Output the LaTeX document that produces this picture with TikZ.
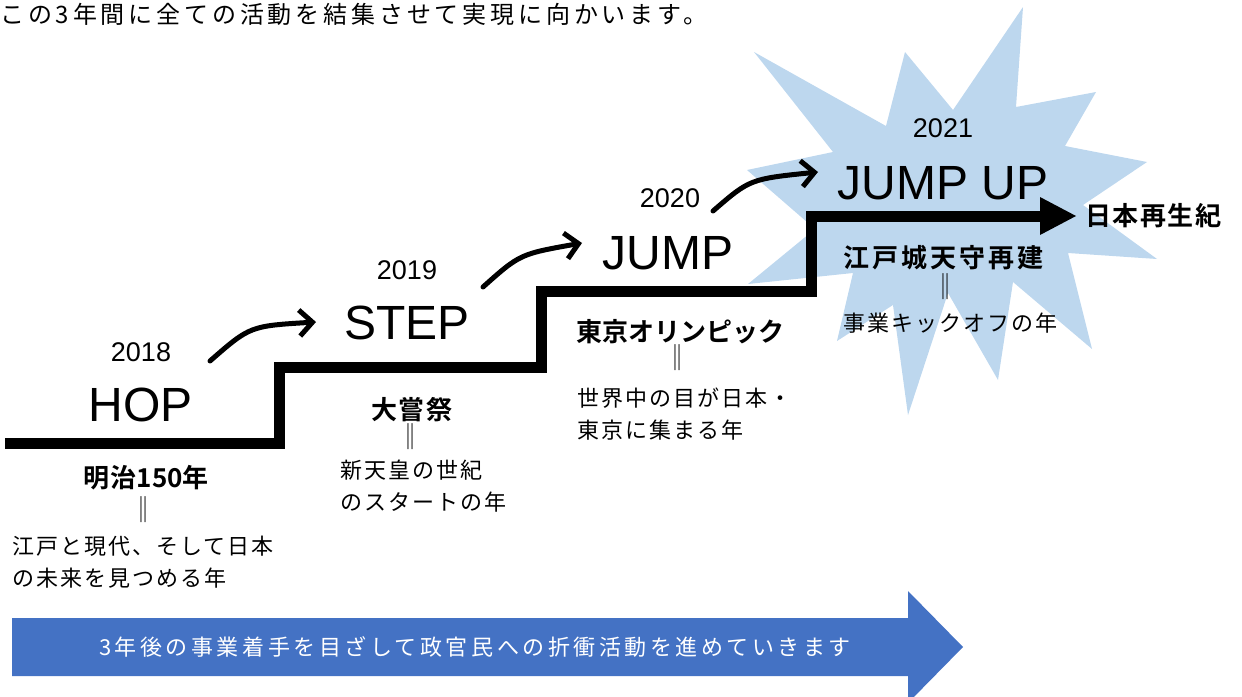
\documentclass[tikz,border=0pt]{standalone}
\usepackage{fontspec}
\setmainfont{Liberation Sans}
\newfontfamily\jp[LetterSpace=9]{Noto Sans CJK JP}
\newfontfamily\jphead[LetterSpace=16]{Noto Sans CJK JP}
\newfontfamily\jpb[LetterSpace=6]{Noto Sans CJK JP Bold}
\newfontfamily\jpbn[LetterSpace=0]{Noto Sans CJK JP Bold}
\newfontfamily\jpbw[LetterSpace=12]{Noto Sans CJK JP Bold}
\usetikzlibrary{arrows.meta}
\definecolor{starblue}{HTML}{BDD7EE}
\definecolor{barblue}{HTML}{4472C4}
\tikzset{
  year/.style={inner sep=0pt,font=\fontsize{27}{30}\selectfont},
  stage/.style={inner sep=0pt,font=\fontsize{48}{52}\selectfont},
  jtxt/.style={inner sep=0pt,align=left,font=\jp\fontsize{22}{32.5}\selectfont},
  jbold/.style={inner sep=0pt,font=\jpb\fontsize{26}{30}\selectfont},
  eqs/.style={inner sep=0pt,font=\jp\fontsize{26}{28}\selectfont},
  stairs/.style={line width=11pt,miter limit=4,line join=miter},
  hopline/.style={line width=5pt,line cap=round,-{Straight Barb[length=13pt,width=26pt,line width=5pt]}},
}
\begin{document}
\begin{tikzpicture}[x=1pt,y=-1pt]
\useasboundingbox (0,0) rectangle (1242,696);
\begin{scope}
\clip (0,0) rectangle (1242,696);
% star burst
\fill[starblue] (1023,7) -- (1016,107) -- (1096,92) -- (1065,146) -- (1147,162) -- (1083,205)
  -- (1157,259) -- (1068,253) -- (1092,349) -- (1013,282) -- (998,380) -- (948,293)
  -- (908,415) -- (893,305) -- (837,341) -- (853,273) -- (748,284) -- (815,229)
  -- (747,170) -- (833,152) -- (754,52) -- (886,126) -- (905,52) -- (953,110) -- cycle;
% bottom arrow
\fill[barblue] (12,618) -- (908,618) -- (908,591) -- (963,647) -- (908,703) -- (908,676) -- (12,676) -- cycle;
\end{scope}
\node[inner sep=0pt,text=white,font=\jphead\fontsize{22}{24}\selectfont] (bar) at (475,647) {3年後の事業着手を目ざして政官民への折衝活動を進めていきます};

% header
\node[inner sep=0pt,anchor=west,font=\jphead\fontsize{24}{26}\selectfont] (head) at (0,14) {この3年間に全ての活動を結集させて実現に向かいます。};

% stairs
\coordinate (s0) at (5,443);
\coordinate (s1) at (279,443);
\coordinate (s2) at (279,367);
\coordinate (s3) at (541,367);
\coordinate (s4) at (541,291);
\coordinate (s5) at (811,291);
\coordinate (s6) at (811,216);
\coordinate (s7) at (1076,216);
\draw[stairs] (s0) -- (s1) -- (s2) -- (s3) -- (s4) -- (s5) -- (s6) -- ([xshift=-30pt]s7);
\fill (1040,197) -- (s7) -- (1040,235) -- cycle;

% curved arrows
\coordinate (a1s) at (210,361);
\coordinate (a1c) at (250,326);
\coordinate (a1e) at (316,322);
\draw[hopline] (a1s) .. controls (a1c) .. (a1e);
\coordinate (a2s) at (483,287);
\coordinate (a2c) at (520,254);
\coordinate (a2e) at (582,243);
\draw[hopline] (a2s) .. controls (a2c) .. (a2e);
\coordinate (a3s) at (713,211);
\coordinate (a3c) at (750,179);
\coordinate (a3e) at (818,172);
\draw[hopline] (a3s) .. controls (a3c) .. (a3e);

% HOP
\node[year] (y18) at (141,352) {2018};
\node[stage] (hop) at (141,405) {HOP};
\node[jbold] (meiji) at (146,478) {明治{\jpbn 150}年};
\node[eqs] (eq1) at (143,510) {‖};
\node[jtxt,anchor=west] (meijit) at (12,562) {江戸と現代、そして日本\\の未来を見つめる年};

% STEP
\node[year] (y19) at (407,270) {2019};
\node[stage] (step) at (407,323) {STEP};
\node[jbold] (daijo) at (412,410) {大嘗祭};
\node[eqs] (eq2) at (410,437) {‖};
\node[jtxt,anchor=west] (daijot) at (340,486) {新天皇の世紀\\のスタートの年};

% JUMP
\node[year] (y20) at (670,198) {2020};
\node[stage] (jump) at (668,253) {JUMP};
\node[inner sep=0pt,font=\jpbn\fontsize{26}{30}\selectfont,anchor=west] (tokyo) at (576,332) {東京オリンピック};
\node[eqs] (eq3) at (677,358) {‖};
\node[jtxt,anchor=west] (tokyot) at (577,414) {世界中の目が日本・\\東京に集まる年};

% JUMP UP
\node[year] (y21) at (943,128) {2021};
\node[stage] (jumpup) at (943,183) {JUMP UP};
\node[inner sep=0pt,font=\jpbw\fontsize{26}{30}\selectfont,anchor=west] (edo) at (843,258) {江戸城天守再建};
\node[eqs] (eq4) at (945,287) {‖};
\node[jtxt,anchor=west] (edot) at (843,323) {事業キックオフの年};
\node[jbold,anchor=west] (nihon) at (1085,216) {日本再生紀};
\end{tikzpicture}
\end{document}
